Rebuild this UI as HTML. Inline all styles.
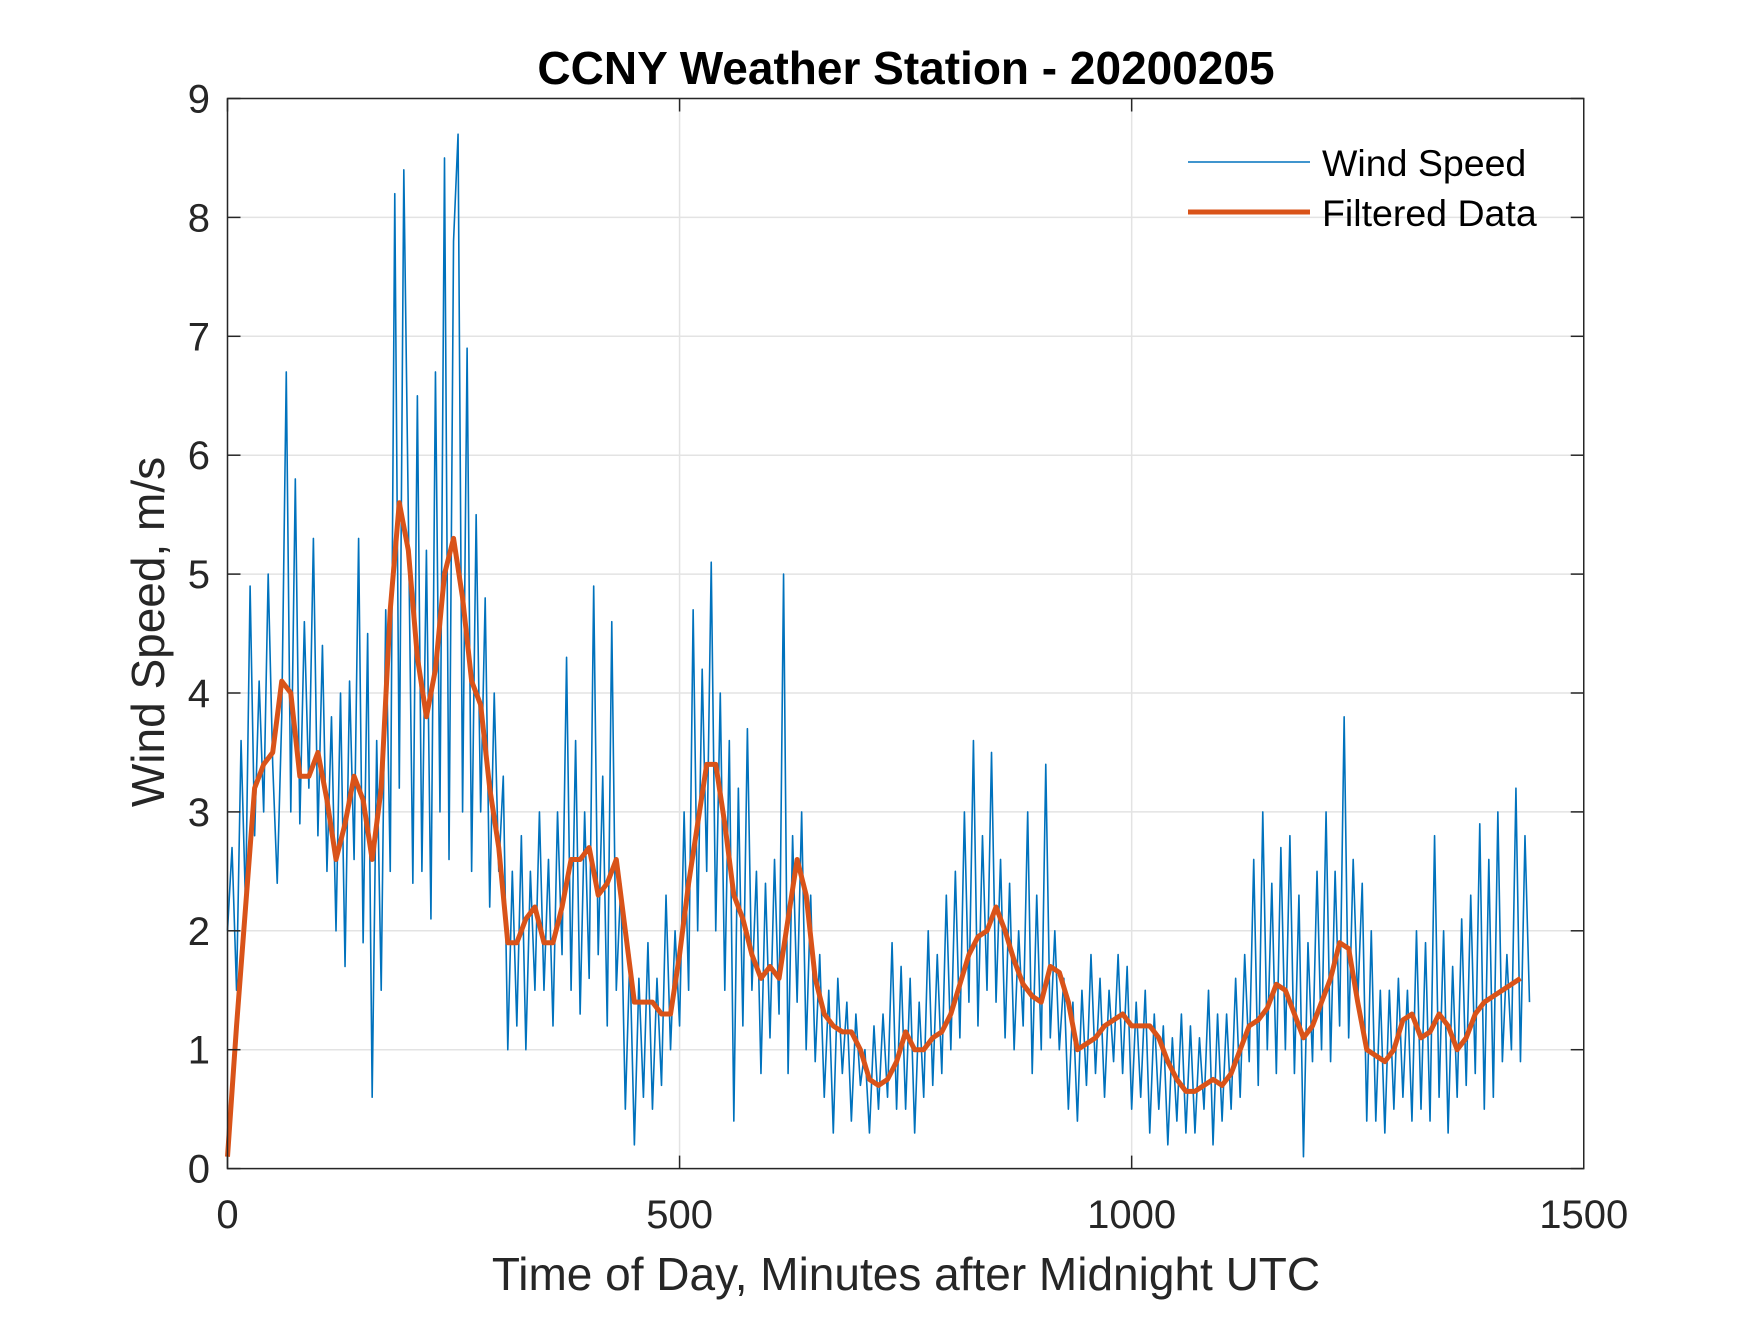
<!DOCTYPE html>
<html><head><meta charset="utf-8"><style>
html,body{margin:0;padding:0;background:#fff;}
svg text{font-family:"Liberation Sans",Arial,sans-serif;fill:#262626;}
</style></head><body>
<svg id="chart" width="1750" height="1313" viewBox="0 0 1750 1313" xmlns="http://www.w3.org/2000/svg">
<rect x="0" y="0" width="1750" height="1313" fill="#fff"/>
<g id="grid"></g>
<g id="series"></g>
<g id="axes"></g>
<text x="906" y="84" text-anchor="middle" font-size="46" font-weight="bold" style="fill:#000">CCNY Weather Station - 20200205</text>
<text x="906" y="1290" text-anchor="middle" font-size="46">Time of Day, Minutes after Midnight UTC</text>
<text transform="translate(164,632) rotate(-90)" text-anchor="middle" font-size="46">Wind Speed, m/s</text>
<g>
<line x1="1188" y1="162" x2="1310" y2="162" stroke="#0072BD" stroke-width="1.6"/>
<text x="1322" y="176" font-size="37.5" style="fill:#000">Wind Speed</text>
<line x1="1188" y1="212" x2="1310" y2="212" stroke="#D95319" stroke-width="5"/>
<text x="1322" y="226" font-size="37.5" style="fill:#000">Filtered Data</text>
</g>
</svg>
<script>
const xTicks = [0, 500, 1000, 1500];
const yTicks = [0, 1, 2, 3, 4, 5, 6, 7, 8, 9];
const windStep = 5;
const windSpeed = [
2.0,2.7,1.5,3.6,2.2,4.9,2.8,4.1,3.0,5.0,3.4,
2.4,3.8,6.7,3.0,5.8,2.9,4.6,3.2,5.3,2.8,
4.4,2.5,3.8,2.0,4.0,1.7,4.1,2.6,5.3,1.9,
4.5,0.6,3.6,1.5,4.7,2.5,8.2,3.2,8.4,5.5,
2.4,6.5,2.5,5.2,2.1,6.7,3.0,8.5,2.6,7.8,
8.7,3.0,6.9,2.5,5.5,3.0,4.8,2.2,4.0,2.5,
3.3,1.0,2.5,1.2,2.8,1.0,2.5,1.5,3.0,1.5,
2.6,1.2,3.0,1.8,4.3,1.5,3.6,1.3,3.0,1.6,
4.9,1.8,3.3,1.2,4.6,1.5,2.4,0.5,1.8,0.2,
1.6,0.6,1.9,0.5,1.6,0.7,2.3,1.0,2.0,1.2,
3.0,1.5,4.7,2.0,4.2,2.5,5.1,2.0,4.0,1.5,
3.6,0.4,3.2,1.2,3.7,1.5,2.5,0.8,2.4,1.1,
2.6,1.3,5.0,0.8,2.8,1.4,3.0,1.0,2.3,0.9,
1.8,0.6,1.5,0.3,1.6,0.8,1.4,0.4,1.3,0.7,
1.0,0.3,1.2,0.5,1.3,0.6,1.9,0.5,1.7,0.5,
1.6,0.3,1.4,0.6,2.0,0.7,1.8,0.8,2.3,1.0,
2.5,1.1,3.0,1.4,3.6,1.2,2.8,1.5,3.5,1.4,
2.6,1.1,2.4,1.0,2.0,1.2,3.0,0.8,2.3,1.0,
3.4,1.1,2.0,1.0,1.6,0.5,1.4,0.4,1.5,0.7,
1.8,0.8,1.6,0.6,1.5,0.9,1.8,0.8,1.7,0.5,
1.4,0.6,1.5,0.3,1.3,0.5,1.2,0.2,1.1,0.4,
1.3,0.3,1.2,0.3,1.1,0.5,1.5,0.2,1.3,0.4,
1.3,0.5,1.6,0.6,1.8,0.9,2.6,0.7,3.0,1.0,
2.4,0.8,2.7,1.0,2.8,0.8,2.3,0.1,1.9,0.9,
2.5,1.0,3.0,0.9,2.5,1.2,3.8,1.1,2.6,1.4,
2.4,0.4,2.0,0.4,1.5,0.3,1.5,0.5,1.6,0.6,
1.5,0.4,2.0,0.5,1.9,0.4,2.8,0.6,2.0,0.3,
1.7,0.6,2.1,0.7,2.3,0.8,2.9,0.5,2.6,0.6,
3.0,0.9,1.8,1.0,3.2,0.9,2.8,1.4
];
const filteredStep = 10;
const filtered = [
0.1,1.2,2.2,3.2,3.4,3.5,4.1,4.0,3.3,3.3,3.5,3.1,2.6,2.9,3.3,3.1,2.6,3.2,4.7,5.6,
5.2,4.3,3.8,4.2,5.0,5.3,4.8,4.1,3.9,3.2,2.7,1.9,1.9,2.1,2.2,1.9,1.9,2.2,2.6,2.6,
2.7,2.3,2.4,2.6,2.0,1.4,1.4,1.4,1.3,1.3,1.8,2.4,2.9,3.4,3.4,2.9,2.3,2.1,1.8,1.6,
1.7,1.6,2.1,2.6,2.3,1.6,1.3,1.2,1.15,1.15,1.0,0.75,0.7,0.75,0.9,1.15,1.0,1.0,1.1,1.15,
1.3,1.55,1.8,1.95,2.0,2.2,2.0,1.75,1.55,1.45,1.4,1.7,1.65,1.4,1.0,1.05,1.1,1.2,1.25,1.3,
1.2,1.2,1.2,1.1,0.9,0.75,0.65,0.65,0.7,0.75,0.7,0.8,1.0,1.2,1.25,1.35,1.55,1.5,1.3,1.1,
1.2,1.4,1.6,1.9,1.85,1.4,1.0,0.95,0.9,1.0,1.25,1.3,1.1,1.15,1.3,1.2,1.0,1.1,1.3,1.4,
1.45,1.5,1.55,1.6
];
const L=227.5,R=1583.75,T=98.5,B=1168.6;
const xs=v=>L+(v-0)/(1500-0)*(R-L);
const ys=v=>B-(v-0)/(9-0)*(B-T);
const NS='http://www.w3.org/2000/svg';
function mk(tag,attrs,parent){const e=document.createElementNS(NS,tag);for(const k in attrs)e.setAttribute(k,attrs[k]);parent.appendChild(e);return e;}
const grid=document.getElementById('grid'),axes=document.getElementById('axes'),series=document.getElementById('series');
xTicks.forEach(t=>{
  const g=mk('line',{x1:xs(t),x2:xs(t),y1:T,y2:B,stroke:'#e3e3e3','stroke-width':1.5},grid);
  
  
  const tk1=mk('line',{x1:xs(t),x2:xs(t),y1:B,y2:B-13,stroke:'#262626','stroke-width':1.5},axes);
  
  
  const tk2=mk('line',{x1:xs(t),x2:xs(t),y1:T,y2:T+13,stroke:'#262626','stroke-width':1.5},axes);
  
  
  const lb=mk('text',{x:xs(t),y:1228,'text-anchor':'middle','font-size':40},axes);
  lb.textContent=t;
  
  
});
yTicks.forEach(t=>{
  const g=mk('line',{x1:L,x2:R,y1:ys(t),y2:ys(t),stroke:'#e3e3e3','stroke-width':1.5},grid);
  
  
  const tk1=mk('line',{x1:L,x2:L+13,y1:ys(t),y2:ys(t),stroke:'#262626','stroke-width':1.5},axes);
  
  
  const tk2=mk('line',{x1:R,x2:R-13,y1:ys(t),y2:ys(t),stroke:'#262626','stroke-width':1.5},axes);
  
  
  const lb=mk('text',{x:210,y:ys(t)+14,'text-anchor':'end','font-size':40},axes);
  lb.textContent=t;
  
  
});
const box=mk('rect',{x:L,y:T,width:R-L,height:B-T,fill:'none',stroke:'#262626','stroke-width':1.5},axes);


const wp=mk('polyline',{points:windSpeed.map((v,i)=>xs(i*windStep)+','+ys(v)).join(' '),fill:'none',stroke:'#0072BD','stroke-width':1.6,'stroke-linejoin':'round'},series);


const fp=mk('polyline',{points:filtered.map((v,i)=>xs(i*filteredStep)+','+ys(v)).join(' '),fill:'none',stroke:'#D95319','stroke-width':5,'stroke-linejoin':'round'},series);


</script>
</body></html>
